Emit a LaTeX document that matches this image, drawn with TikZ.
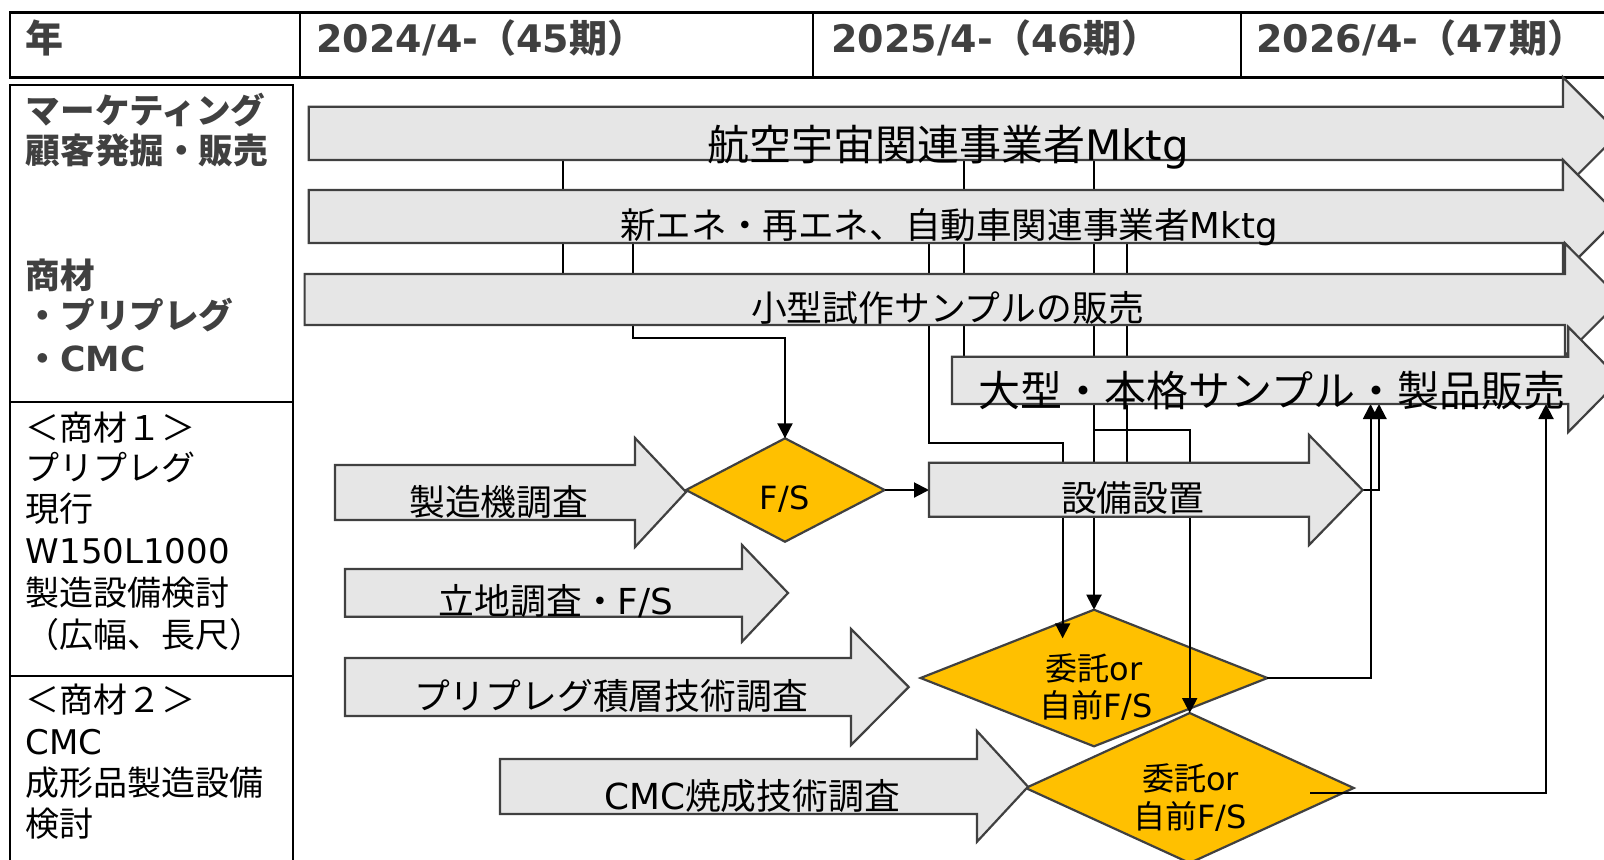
\documentclass[tikz,border=0pt]{standalone}
\usepackage{fontspec}
\setmainfont{Noto Sans CJK JP}
\newfontfamily\latfont{DejaVu Sans}
\newcommand\ltn[1]{{\latfont #1}}
\usetikzlibrary{arrows.meta}
\definecolor{dgray}{HTML}{404040}
\definecolor{lgray}{HTML}{E6E6E6}
\definecolor{gold}{HTML}{FFC000}
\begin{document}
\begin{tikzpicture}[x=0.5pt,y=-0.5pt,
  frame/.style={draw=black,line width=1.2pt},
  blockarrow/.style={draw=dgray,fill=lgray,line width=1.1pt,line join=miter},
  decision/.style={draw=dgray,fill=gold,line width=1.1pt},
  conn/.style={draw=black,line width=1pt},
  connarrow/.style={conn,-{Triangle[length=7.5pt,width=7.5pt]}},
  hdr/.style={anchor=west,inner sep=0pt,text=dgray,font=\fontsize{19}{22}\selectfont\bfseries},
  lefthead/.style={anchor=west,inner sep=0pt,text=dgray,font=\fontsize{17.3}{20}\selectfont\bfseries},
  leftbody/.style={anchor=west,inner sep=0pt,text=black,font=\fontsize{17}{20}\selectfont},
  lbl/.style={inner sep=0pt,text=black,font=\fontsize{17.9}{20}\selectfont},
  midlbl/.style={inner sep=0pt,text=black,font=\fontsize{17.8}{20}\selectfont},
  biglbl/.style={inner sep=0pt,text=black,font=\fontsize{21}{24}\selectfont},
  dlbl/.style={inner sep=0pt,text=black,font=\fontsize{16}{18}\selectfont},
]
\useasboundingbox (0,0) rectangle (1604,859);
\clip (0,0) rectangle (1604,859);

% ---------- header ----------
\draw[frame] (10.2,12.3) rectangle (1640,77.3);
\draw[frame] (300,12.3) -- (300,77.3);
\draw[frame] (812.8,12.3) -- (812.8,77.3);
\draw[frame] (1241,12.3) -- (1241,77.3);
\node[hdr] (hy) at (25.5,37.5) {年};
\node[hdr] (h1) at (316,38.3) {\ltn{2024/4-}（\ltn{45}期）};
\node[hdr] (h2) at (830.8,38.3) {\ltn{2025/4-}（\ltn{46}期）};
\node[hdr] (h3) at (1256,38.3) {\ltn{2026/4-}（\ltn{47}期）};

% ---------- left column ----------
\draw[frame] (10.2,85) rectangle (293,900);
\draw[frame] (10.2,401.7) -- (293,401.7);
\draw[frame] (10.2,676) -- (293,676);
\node[lefthead] (l1) at (25.5,110) {マーケティング};
\node[lefthead] (l2) at (25.5,150.8) {顧客発掘・販売};
\node[lefthead] (l3) at (25.5,275.8) {商材};
\node[lefthead] (l4) at (25.5,315) {・プリプレグ};
\node[lefthead] (l5) at (25.5,359) {・\ltn{CMC}};
\node[leftbody] (m1) at (25.5,427.5) {＜商材１＞};
\node[leftbody] (m2) at (25.5,467.5) {プリプレグ};
\node[leftbody] (m3) at (25.5,509) {現行};
\node[leftbody] (m4) at (25.5,550.8) {\ltn{W150L1000}};
\node[leftbody] (m5) at (25.5,592.5) {製造設備検討};
\node[leftbody] (m6) at (25.5,635) {（広幅、長尺）};
\node[leftbody] (n1) at (25.5,700) {＜商材２＞};
\node[leftbody] (n2) at (25.5,742.5) {\ltn{CMC}};
\node[leftbody] (n3) at (25.5,783) {成形品製造設備};
\node[leftbody] (n4) at (25.5,824) {検討};

% ---------- decisions ----------
\path[decision] (686,490) -- (785,438.3) -- (884.6,490) -- (785,541.7) -- cycle;
\path[decision] (920.6,678) -- (1094,609.7) -- (1267.4,678) -- (1094,746.3) -- cycle;
\path[decision] (1025.7,788) -- (1189.7,713) -- (1353.7,788) -- (1189.7,863) -- cycle;

% ---------- named points ----------
\coordinate (a1x1) at (562.7,160);
\coordinate (a1x2) at (964.1,160);
\coordinate (a1x3) at (1094,160);
\coordinate (a2x1) at (632.7,243);
\coordinate (a2x2) at (929.2,243);
\coordinate (a2x3) at (1127.2,243);
\coordinate (a3t) at (562.7,274);
\coordinate (a4t) at (964.1,356.7);
\coordinate (a4b1) at (1370.5,404);
\coordinate (a4b2) at (1379,404);
\coordinate (a4b3) at (1546,404);
\coordinate (dfT) at (785,438.3);
\coordinate (dfR) at (884.6,490);
\coordinate (d1T) at (1094,609.7);
\coordinate (d1R) at (1267.4,678);
\coordinate (d1in) at (1062.6,638.3);
\coordinate (d2T) at (1189.7,713);
\coordinate (d2in) at (1310,792.7);
\coordinate (s5L) at (929,490);
\coordinate (s5T) at (1127.2,462.7);
\coordinate (s5tip) at (1362.6,490);
\coordinate (k4) at (785,337.7);
\coordinate (k5) at (1062.6,442.7);
\coordinate (k7) at (1094,430);

% ---------- connectors ----------
\draw[conn] (a1x1) -- (a3t);
\draw[conn] (a1x2) -- (a4t);
\draw[connarrow] (a1x3) -- (d1T);
\draw[connarrow] (a2x1) |- (k4) -- (dfT);
\draw[connarrow] (a2x2) |- (k5) -- (d1in);
\draw[conn] (a2x3) -- (s5T);
\draw[connarrow] (k7) -| (d2T);
\draw[connarrow] (dfR) -- (s5L);
\draw[connarrow] (s5tip) -| (a4b2);
\draw[connarrow] (d1R) -| (a4b1);
\draw[connarrow] (d2in) -| (a4b3);

% ---------- block arrows ----------
\path[blockarrow] (308.7,106.7) -- (1563,106.7) -- (1563,77.3) -- (1619,133.3) -- (1563,189.3) -- (1563,160) -- (308.7,160) -- cycle;
\path[blockarrow] (308.7,190) -- (1563,190) -- (1563,160) -- (1619.5,216.5) -- (1563,273) -- (1563,243) -- (308.7,243) -- cycle;
\path[blockarrow] (304.6,274) -- (1565,274) -- (1565,243.3) -- (1621,299.5) -- (1565,355.7) -- (1565,325) -- (304.6,325) -- cycle;
\path[blockarrow] (952,356.7) -- (1568.3,356.7) -- (1568.3,327) -- (1620,379.5) -- (1568.3,432) -- (1568.3,404) -- (952,404) -- cycle;
\path[blockarrow] (335,465) -- (635,465) -- (635,438) -- (686,492) -- (635,547) -- (635,520) -- (335,520) -- cycle;
\path[blockarrow] (345,569) -- (742,569) -- (742,545) -- (788,593) -- (742,641.7) -- (742,616.7) -- (345,616.7) -- cycle;
\path[blockarrow] (345,658) -- (851,658) -- (851,629) -- (908.7,687) -- (851,745) -- (851,716) -- (345,716) -- cycle;
\path[blockarrow] (500,759) -- (977,759) -- (977,731) -- (1028,786.7) -- (977,841.7) -- (977,814) -- (500,814) -- cycle;
\path[blockarrow] (929,462.7) -- (1309,462.7) -- (1309,435) -- (1362.6,490) -- (1309,545) -- (1309,516.7) -- (929,516.7) -- cycle;

% ---------- labels ----------
\node[biglbl] (t1) at (948,147.5) {航空宇宙関連事業者\ltn{Mktg}};
\node[midlbl] (t2) at (949,227) {新エネ・再エネ、自動車関連事業者\ltn{Mktg}};
\node[lbl] (t3) at (947.5,307.7) {小型試作サンプルの販売};
\node[biglbl] (t4) at (1272,390.8) {大型・本格サンプル・製品販売};
\node[lbl] (t5) at (498.7,502) {製造機調査};
\node[lbl] (t6) at (556,601) {立地調査・\ltn{F/S}};
\node[lbl] (t7) at (611,696) {プリプレグ積層技術調査};
\node[lbl] (t8) at (752,796) {\ltn{CMC}焼成技術調査};
\node[lbl] (t9) at (1132.6,498) {設備設置};
\node[dlbl] (u1) at (784.6,499) {\ltn{F/S}};
\node[dlbl] (u2) at (1094,668) {委託\ltn{or}};
\node[dlbl] (u3) at (1096,705) {自前\ltn{F/S}};
\node[dlbl] (u4) at (1190.5,778) {委託\ltn{or}};
\node[dlbl] (u5) at (1190,816.7) {自前\ltn{F/S}};
\end{tikzpicture}
\end{document}
